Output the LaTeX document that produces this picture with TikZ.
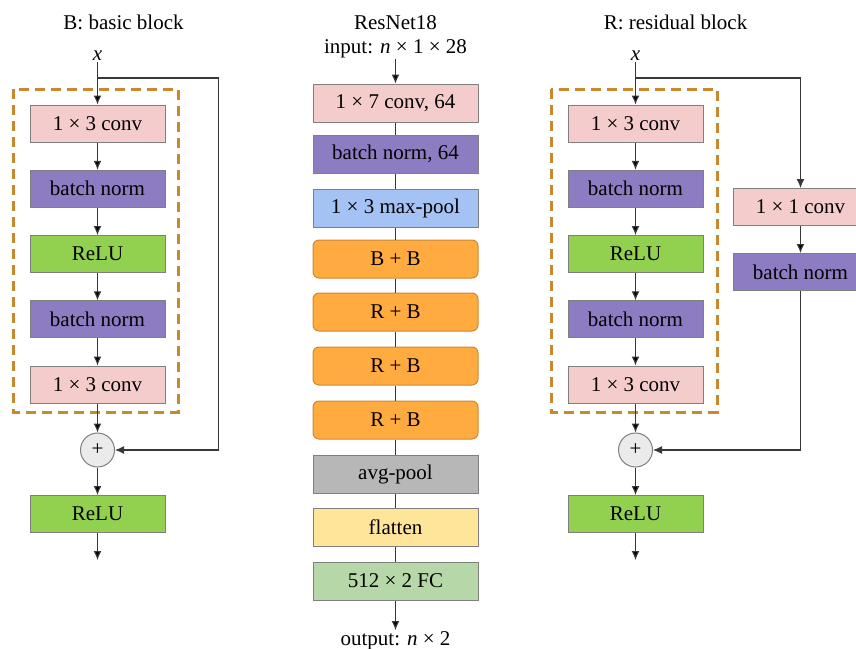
\documentclass[tikz,border=0pt]{standalone}
\usepackage{fontspec}
\setmainfont{Liberation Serif}
\usetikzlibrary{arrows.meta}

\definecolor{convpink}{HTML}{F4CCCC}
\definecolor{normpurple}{HTML}{8E7CC3}
\definecolor{relugreen}{HTML}{92D050}
\definecolor{poolblue}{HTML}{A4C2F4}
\definecolor{resorange}{HTML}{FFAB40}
\definecolor{avggray}{HTML}{B7B7B7}
\definecolor{flatyellow}{HTML}{FFE599}
\definecolor{fcgreen}{HTML}{B6D7A8}
\definecolor{dashbrown}{HTML}{C98A2E}
\definecolor{boxgray}{HTML}{7F7F7F}
\definecolor{linegray}{HTML}{383838}
\definecolor{sumgray}{HTML}{EBEBEB}

\tikzset{
    blk/.style={draw=boxgray, line width=1pt, minimum width=135pt, minimum height=37pt,
        inner sep=0pt, font=\fontsize{21}{25}\selectfont},
    wblk/.style={blk, minimum width=165pt, minimum height=38pt},
    stage/.style={wblk, fill=resorange, draw=resorange!80!black, rounded corners=6pt},
    lbl/.style={inner sep=1pt, font=\fontsize{21}{25}\selectfont},
    sum/.style={circle, draw=boxgray, fill=sumgray, line width=1pt, minimum size=34pt,
        inner sep=0pt, font=\fontsize{21}{25}\selectfont},
    dashbox/.style={draw=dashbrown, line width=3pt, dash pattern=on 10pt off 6pt},
    conn/.style={draw=linegray, line width=1.1pt}
}

\begin{document}
\begin{tikzpicture}[x=1pt,y=-1pt,>={Latex[length=9pt,width=8pt]}]
    \useasboundingbox (0,0) rectangle (856,648);

    % B: basic block
    \node[lbl] (ltitle) at (123.5,22) {B: basic block};
    \node[lbl] (lx) at (97.5,56) {\textit{x}};
    \draw[dashbox] (13,89) rectangle (178,412);
    \node[blk,fill=convpink] (lconv1) at (97.5,123.5) {1 × 3 conv};
    \node[blk,fill=normpurple] (lbn1) at (97.5,188.75) {batch norm};
    \node[blk,fill=relugreen] (lrelu1) at (97.5,254) {ReLU};
    \node[blk,fill=normpurple] (lbn2) at (97.5,319.25) {batch norm};
    \node[blk,fill=convpink] (lconv2) at (97.5,384.5) {1 × 3 conv};
    \node[sum] (lsum) at (97.5,450) {+};
    \node[blk,fill=relugreen] (lrelu2) at (97.5,514) {ReLU};
    \coordinate (lsplit) at (97.5,78);
    \coordinate (lturn) at (218.5,78);
    \coordinate (lout) at (97.5,560);

    \path[conn,->] (lx) edge (lconv1);
    \path[conn,->] (lconv1) edge (lbn1);
    \path[conn,->] (lbn1) edge (lrelu1);
    \path[conn,->] (lrelu1) edge (lbn2);
    \path[conn,->] (lbn2) edge (lconv2);
    \path[conn,->] (lconv2) edge (lsum);
    \path[conn,->] (lsum) edge (lrelu2);
    \path[conn,->] (lrelu2) edge (lout);
    \draw[conn,->] (lsplit) -- (lturn) |- (lsum);

    % ResNet18
    \node[lbl] (mtitle) at (395.5,23) {ResNet18};
    \node[lbl] (min) at (395.5,49) {input: \textit{n} × 1 × 28};
    \node[wblk,fill=convpink] (mconv) at (395.5,103) {1 × 7 conv, 64};
    \node[wblk,fill=normpurple] (mbn) at (395.5,154) {batch norm, 64};
    \node[wblk,fill=poolblue] (mpool) at (395.5,208) {1 × 3 max-pool};
    \node[stage] (ms1) at (395.5,259) {B + B};
    \node[stage] (ms2) at (395.5,312) {R + B};
    \node[stage] (ms3) at (395.5,366) {R + B};
    \node[stage] (ms4) at (395.5,420) {R + B};
    \node[wblk,fill=avggray] (mavg) at (395.5,474) {avg-pool};
    \node[wblk,fill=flatyellow] (mflat) at (395.5,527) {flatten};
    \node[wblk,fill=fcgreen] (mfc) at (395.5,581) {512 × 2 FC};
    \node[lbl,anchor=north] (mout) at (395.5,630) {output: \textit{n} × 2};

    \path[conn,->] (min) edge (mconv);
    \path[conn] (mconv) edge (mbn);
    \path[conn] (mbn) edge (mpool);
    \path[conn] (mpool) edge (ms1);
    \path[conn] (ms1) edge (ms2);
    \path[conn] (ms2) edge (ms3);
    \path[conn] (ms3) edge (ms4);
    \path[conn] (ms4) edge (mavg);
    \path[conn] (mavg) edge (mflat);
    \path[conn] (mflat) edge (mfc);
    \path[conn,->] (mfc) edge (mout);

    % R: residual block
    \node[lbl] (rtitle) at (675.5,22) {R: residual block};
    \node[lbl] (rx) at (635.5,56) {\textit{x}};
    \draw[dashbox] (551,89) rectangle (717,412);
    \node[blk,fill=convpink] (rconv1) at (635.5,123.5) {1 × 3 conv};
    \node[blk,fill=normpurple] (rbn1) at (635.5,188.75) {batch norm};
    \node[blk,fill=relugreen] (rrelu1) at (635.5,254) {ReLU};
    \node[blk,fill=normpurple] (rbn2) at (635.5,319.25) {batch norm};
    \node[blk,fill=convpink] (rconv2) at (635.5,384.5) {1 × 3 conv};
    \node[sum] (rsum) at (635.5,450) {+};
    \node[blk,fill=relugreen] (rrelu2) at (635.5,514) {ReLU};
    \node[blk,fill=convpink] (rsconv) at (800.5,207) {1 × 1 conv};
    \node[blk,fill=normpurple] (rsbn) at (800.5,272) {batch norm};
    \coordinate (rsplit) at (635.5,78);
    \coordinate (rturn) at (800.5,78);
    \coordinate (rout) at (635.5,560);

    \path[conn,->] (rx) edge (rconv1);
    \path[conn,->] (rconv1) edge (rbn1);
    \path[conn,->] (rbn1) edge (rrelu1);
    \path[conn,->] (rrelu1) edge (rbn2);
    \path[conn,->] (rbn2) edge (rconv2);
    \path[conn,->] (rconv2) edge (rsum);
    \path[conn,->] (rsum) edge (rrelu2);
    \path[conn,->] (rrelu2) edge (rout);
    \draw[conn,->] (rsplit) -- (rturn) -- (rsconv);
    \path[conn,->] (rsconv) edge (rsbn);
    \draw[conn,->] (rsbn) |- (rsum);
\end{tikzpicture}
\end{document}
